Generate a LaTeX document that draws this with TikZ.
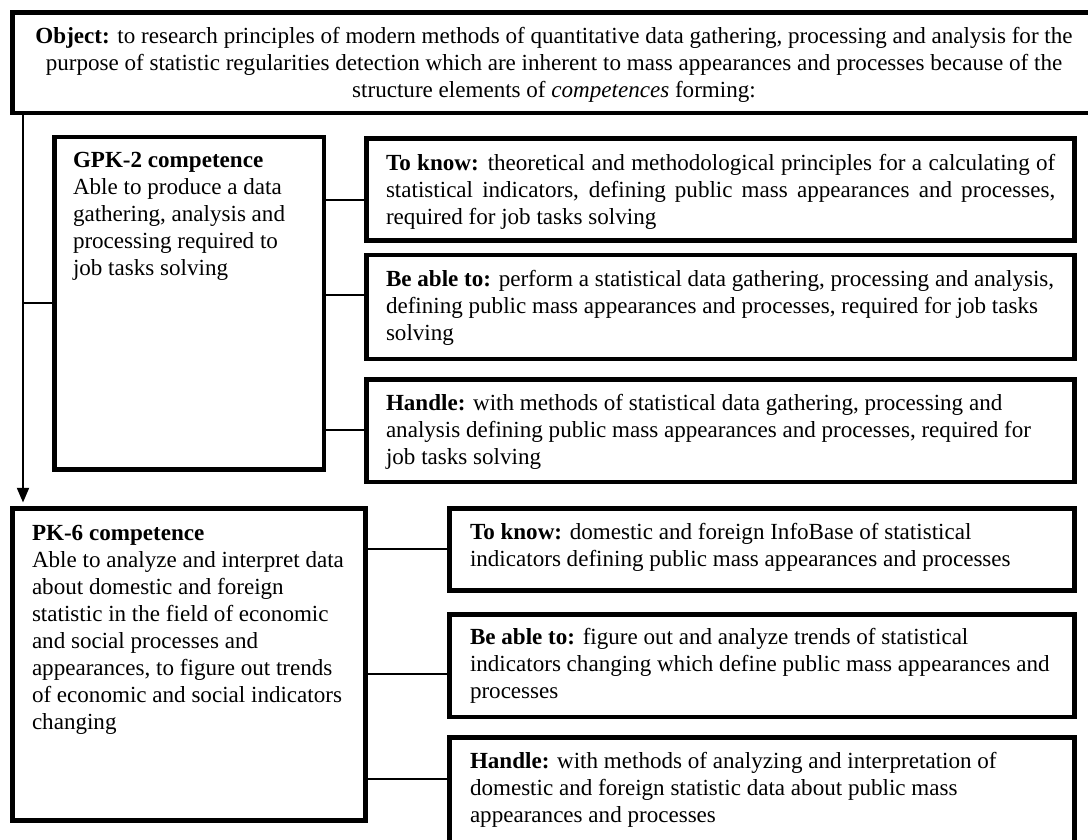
\documentclass[tikz,border=0pt]{standalone}
\usepackage{fontspec}
\setmainfont{Liberation Serif}
\usetikzlibrary{fit,arrows.meta}
\begin{document}
\begin{tikzpicture}[x=0.75pt,y=-0.75pt,
  box/.style={draw, line width=3.2pt, inner sep=0pt, outer sep=0pt, fill=white},
  txt/.style={anchor=north west, inner sep=0pt, outer sep=0pt, align=left, font=\fontsize{17.3}{20.25}\selectfont},
  conn/.style={line width=1.4pt},
  arr/.style={conn, -{Triangle[length=11pt,width=9pt]}, shorten >=4.5pt}
]
\useasboundingbox (0,0) rectangle (1088,839);
\clip (0,0) rectangle (1088,839);
% boxes
\node[box, fit={(12.5,12.5) (1100,113)}] (top) {};
\node[box, fit={(54.5,137) (324,469.5)}] (gpk) {};
\node[box, fit={(366.5,138.5) (1074.5,240.5)}] (rk1) {};
\node[box, fit={(366.5,255) (1074.5,359)}] (rb1) {};
\node[box, fit={(366.5,379.5) (1074.5,482)}] (rh1) {};
\node[box, fit={(12.5,508.5) (365.5,820.5)}] (pk) {};
\node[box, fit={(449.5,508.5) (1074.5,590.5)}] (rk2) {};
\node[box, fit={(449.5,614.5) (1074.5,717)}] (rb2) {};
\node[box, fit={(449.5,737.5) (1074.5,850)}] (rh2) {};
% texts
\node[txt, anchor=north, align=center] (ttop) at (554,27) {\textbf{Object:} to research principles of modern methods of quantitative data gathering, processing and analysis for the\\ purpose of statistic regularities detection which are inherent to mass appearances and processes because of the\\ structure elements of \textit{competences} forming:};
\node[txt] (tgpk) at (73,152) {\textbf{GPK-2 competence}\\ Able to produce a data\\ gathering, analysis and\\ processing required to\\ job tasks solving};
\node[txt, text width=502pt, align=justify] (trk1) at (386,154) {\textbf{To know:} theoretical and methodological principles for a calculating of\linebreak statistical indicators, defining public mass appearances and processes,\linebreak required for job tasks solving};
\node[txt] (trb1) at (386,270) {\textbf{Be able to:} perform a statistical data gathering, processing and analysis,\\ defining public mass appearances and processes, required for job tasks\\ solving};
\node[txt] (trh1) at (386,394) {\textbf{Handle:} with methods of statistical data gathering, processing and\\ analysis defining public mass appearances and processes, required for\\ job tasks solving};
\node[txt] (tpk) at (32,525) {\textbf{PK-6 competence}\\ Able to analyze and interpret data\\ about domestic and foreign\\ statistic in the field of economic\\ and social processes and\\ appearances, to figure out trends\\ of economic and social indicators\\ changing};
\node[txt] (trk2) at (470,523) {\textbf{To know:} domestic and foreign InfoBase of statistical\\ indicators defining public mass appearances and processes};
\node[txt] (trb2) at (470,628) {\textbf{Be able to:} figure out and analyze trends of statistical\\ indicators changing which define public mass appearances and\\ processes};
\node[txt] (trh2) at (470,752) {\textbf{Handle:} with methods of analyzing and interpretation of\\ domestic and foreign statistic data about public mass\\ appearances and processes};
% connectors
\coordinate (lx) at (23,0);
\coordinate (c1) at (0,200);
\coordinate (c2) at (0,295);
\coordinate (c3) at (0,430);
\coordinate (d1) at (0,549);
\coordinate (d2) at (0,674);
\coordinate (d3) at (0,779);
\draw[arr] (top.south -| lx) -- (pk.north -| lx);
\draw[conn] (gpk.west -| lx) -- (gpk.west);
\draw[conn] (gpk.east |- c1) -- (rk1.west |- c1);
\draw[conn] (gpk.east |- c2) -- (rb1.west |- c2);
\draw[conn] (gpk.east |- c3) -- (rh1.west |- c3);
\draw[conn] (pk.east |- d1) -- (rk2.west |- d1);
\draw[conn] (pk.east |- d2) -- (rb2.west |- d2);
\draw[conn] (pk.east |- d3) -- (rh2.west |- d3);
\end{tikzpicture}
\end{document}
